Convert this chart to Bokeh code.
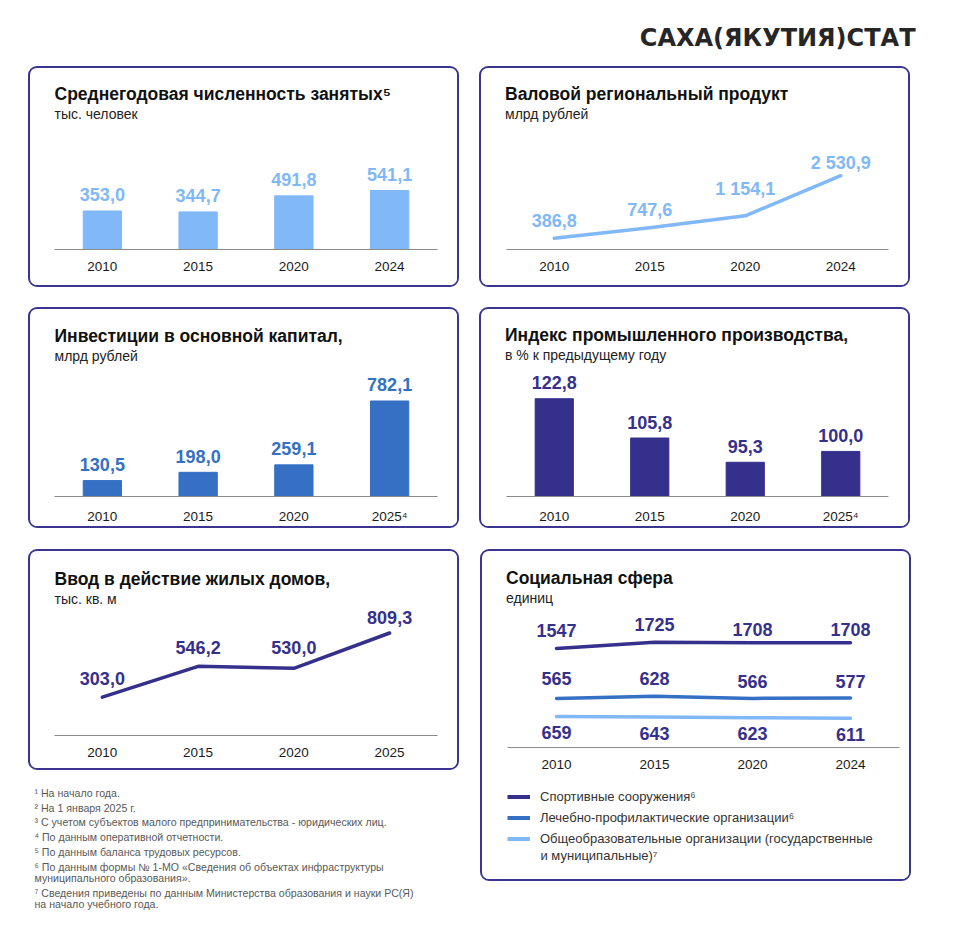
from bokeh.plotting import figure
from bokeh.models import (Range1d, FactorRange, Title, Legend, LegendItem,
                          ColumnDataSource, Spacer)
from bokeh.layouts import column, row
from bokeh.core.properties import value
from bokeh.embed import file_html
from bokeh.resources import INLINE

# ---------------- data ----------------
years_a = ["2010", "2015", "2020", "2024"]
years_b = ["2010", "2015", "2020", "2025\u2074"]
years_c = ["2010", "2015", "2020", "2025"]

employed = [353.0, 344.7, 491.8, 541.1]          # тыс. человек
grp = [386.8, 747.6, 1154.1, 2530.9]             # млрд рублей
investment = [130.5, 198.0, 259.1, 782.1]        # млрд рублей
industry_index = [122.8, 105.8, 95.3, 100.0]     # % к предыдущему году
housing = [303.0, 546.2, 530.0, 809.3]           # тыс. кв. м
sport = [1547, 1725, 1708, 1708]
medical = [565, 628, 566, 577]
schools = [659, 643, 623, 611]

legend_labels = ["Спортивные сооружения\u2076",
                 "Лечебно-профилактические организации\u2076",
                 "Общеобразовательные организации (государственные"]
legend_cont = "и муниципальные)\u2077"

footnotes = [
    ("\u00b9 На начало года.", False),
    ("\u00b2 На 1 января 2025 г.", False),
    ("\u00b3 С учетом субъектов малого предпринимательства - юридических лиц.", False),
    ("\u2074 По данным оперативной отчетности.", False),
    ("\u2075 По данным баланса трудовых ресурсов.", False),
    ("\u2076 По данным формы № 1-МО «Сведения об объектах инфраструктуры", False),
    ("муниципального образования».", True),
    ("\u2077 Сведения приведены по данным Министерства образования и науки РС(Я)", False),
    ("на начало учебного года.", True),
]

# ---------------- style ----------------
FONT = "Liberation Sans"
INDIGO = "#35308c"
MID = "#3570c4"
LIGHT = "#80b8f8"
BORDER = "#3a358f"
W = 427            # canvas width inside the 2.5px css border
EM = 1.15          # approximate text box height / font size
TS, SS = 17.5, 14  # title / subtitle font sizes
BOX = {"border": f"2.5px solid {BORDER}", "border-radius": "9px",
       "overflow": "hidden", "box-sizing": "content-box", "background-color": "white"}


def fmt1(v):
    return f"{v:,.1f}".replace(",", " ").replace(".", ",")


def panel(factors, height, left, right, bottom, title, subtitle, tcy, offset):
    """Figure with stacked titles; returns it and the approximate frame height."""
    t_box = 2 + EM * TS
    s_box = 2 + EM * SS
    t0 = tcy - t_box / 2
    sp_std = max(t0 - 2 - EM * 8, 0)
    frame_top = t0 + t_box + s_box
    p = figure(width=W, height=height, x_range=FactorRange(factors=factors),
               output_backend="svg", toolbar_location=None, y_axis_location=None,
               title_location=None,
               min_border_left=left, min_border_right=right,
               min_border_top=0, min_border_bottom=bottom,
               background_fill_color="white", border_fill_color="white",
               outline_line_color=None)
    p.xgrid.grid_line_color = None
    p.ygrid.grid_line_color = None
    ax = p.xaxis[0]
    ax.axis_line_color = "#8a8a8a"
    ax.axis_line_width = 1
    ax.major_tick_line_color = None
    ax.minor_tick_line_color = None
    ax.major_label_standoff = 6
    ax.major_label_text_font = FONT
    ax.major_label_text_font_size = "13.5px"
    ax.major_label_text_color = "#1a1a1a"
    # stacked outward from the frame: subtitle, title, spacer
    p.add_layout(Title(text=subtitle, align="left", vertical_align="middle", offset=offset,
                       standoff=0, text_font=FONT, text_font_size=f"{SS}px",
                       text_font_style="normal", text_color="#222222"), "above")
    p.add_layout(Title(text=title, align="left", vertical_align="middle", offset=offset,
                       standoff=0, text_font=FONT, text_font_size=f"{TS}px",
                       text_font_style="bold", text_color="#111111"), "above")
    p.add_layout(Title(text=" ", align="left", standoff=sp_std, text_font=FONT,
                       text_font_size="8px"), "above")
    return p, (height - bottom) - frame_top


def boxed(*children):
    return column(*children, styles=BOX)


def value_labels(p, xs, ys, texts, offs, color, **kw):
    src = ColumnDataSource(dict(x=xs, y=ys, t=texts, o=offs))
    p.text(x="x", y="y", text="t", y_offset="o", source=src, text_align="center",
           text_baseline="middle", text_font=value(FONT), text_font_size="18px",
           text_font_style="bold", text_color=color, **kw)


def blank(width, height, **kw):
    f = figure(width=width, height=height, output_backend="svg", toolbar_location=None,
               x_axis_location=None, y_axis_location=None, title_location=None,
               outline_line_color=None, **kw)
    f.grid.visible = False
    return f


# ---------------- header ----------------
hdr = blank(940, 66, x_range=Range1d(0, 940), y_range=Range1d(66, 0), min_border=0)
hdr.text(x=[915], y=[37], text=["САХА(ЯКУТИЯ)СТАТ"], text_align="right", text_baseline="middle",
         text_font=value("DejaVu Sans"), text_font_size="24px", text_font_style="bold",
         text_color="#262626")

# ---------------- panel 1: employed ----------------
p1, fh = panel(years_a, 217, 24, 20, 36,
               "Среднегодовая численность занятых\u2075", "тыс. человек", 25.5, 0)
p1.y_range = Range1d(0, fh / 0.1085)
p1.vbar(x=years_a, top=employed, width=0.4, color=LIGHT)
value_labels(p1, years_a, employed, [fmt1(v) for v in employed], [-16] * 4, LIGHT)

# ---------------- panel 2: GRP ----------------
p2, fh = panel(years_a, 217, 25, 20, 36,
               "Валовой региональный продукт", "млрд рублей", 25.5, -1.5)
p2.y_range = Range1d(0, fh / 0.029)
p2.line(x=years_a, y=grp, line_color=LIGHT, line_width=3.5, line_join="round",
        line_cap="round")
value_labels(p2, years_a, grp, [fmt1(v) for v in grp], [-18, -18, -27, -13], LIGHT)

# ---------------- panel 3: investment ----------------
p3, fh = panel(years_b, 217, 24, 20, 30,
               "Инвестиции в основной капитал,", "млрд рублей", 26.5, 0)
p3.y_range = Range1d(0, fh / 0.1215)
p3.vbar(x=years_b, top=investment, width=0.4, color=MID)
value_labels(p3, years_b, investment, [fmt1(v) for v in investment], [-16] * 4, MID)

# ---------------- panel 4: industry index ----------------
p4, fh = panel(years_b, 217, 25, 20, 30,
               "Индекс промышленного производства,", "в % к предыдущему году", 25.5, -1.5)
p4.y_range = Range1d(80.5, 80.5 + fh / 2.3)
p4.vbar(x=years_b, top=industry_index, width=0.4, color=INDIGO)
value_labels(p4, years_b, industry_index, [fmt1(v) for v in industry_index], [-16] * 4, INDIGO)

# ---------------- panel 5: housing ----------------
p5, fh = panel(years_c, 217, 24, 20, 33,
               "Ввод в действие жилых домов,", "тыс. кв. м", 27.5, 0)
p5.y_range = Range1d(0, fh / 0.126)
p5.line(x=years_c, y=housing, line_color=INDIGO, line_width=3.5, line_join="round",
        line_cap="round")
value_labels(p5, years_c, housing, [fmt1(v) for v in housing], [-19, -19, -21, -15], INDIGO)

# ---------------- panel 6: social ----------------
p6, fh = panel(years_a, 225, 25, 10, 29, "Социальная сфера", "единиц", 26, -1.5)
p6.y_range = Range1d(0, 1)
S = 0.035
p6.extra_y_ranges = {
    "sport": Range1d(1547 - 99 / S, 1547 - 99 / S + fh / S),
    "med": Range1d(565 - 49 / S, 565 - 49 / S + fh / S),
    "sch": Range1d(659 - 31 / S, 659 - 31 / S + fh / S),
}
p6.line(x=years_a, y=sport, y_range_name="sport", line_color=INDIGO, line_width=3.5,
        line_cap="round")
p6.line(x=years_a, y=medical, y_range_name="med", line_color=MID, line_width=3.5,
        line_cap="round")
p6.line(x=years_a, y=schools, y_range_name="sch", line_color=LIGHT, line_width=3.5,
        line_cap="round")
value_labels(p6, years_a, sport, [str(v) for v in sport], [-18, -18, -13, -13], INDIGO,
             y_range_name="sport")
value_labels(p6, years_a, medical, [str(v) for v in medical], [-20, -18, -17, -17], INDIGO,
             y_range_name="med")
value_labels(p6, years_a, schools, [str(v) for v in schools], [16] * 4, INDIGO,
             y_range_name="sch")

# legend strip of the social panel (swatch renderers sit outside the visible range)
LH = 103
p6l = blank(W, LH, x_range=Range1d(25, W - 10), y_range=Range1d(LH, 0),
            min_border_left=25, min_border_right=10, min_border_top=0, min_border_bottom=0)
off = dict(x=[-1000, -999], y=[-1000, -1000])
d1 = p6l.line(x=off["x"], y=off["y"], line_color=INDIGO, line_width=4)
d2 = p6l.line(x=off["x"], y=off["y"], line_color=MID, line_width=4)
d3 = p6l.line(x=off["x"], y=off["y"], line_color=LIGHT, line_width=4)
leg = Legend(items=[LegendItem(label=legend_labels[0], renderers=[d1]),
                    LegendItem(label=legend_labels[1], renderers=[d2]),
                    LegendItem(label=legend_labels[2], renderers=[d3])],
             location=(0, 33), orientation="vertical", glyph_width=23, glyph_height=15,
             label_height=15, label_standoff=10, spacing=6, padding=0, margin=0,
             border_line_color=None, background_fill_alpha=0,
             label_text_font=FONT, label_text_font_size="13px", label_text_color="#333333")
p6l.add_layout(leg)
p6l.text(x=[58], y=[78.5], text=[legend_cont], text_baseline="middle",
         text_font=value(FONT), text_font_size="13px", text_color="#333333")

# ---------------- footnotes ----------------
FH = 162
foot = blank(432, FH, x_range=Range1d(0, 432), y_range=Range1d(FH, 0), min_border=0)
fy, ys = 22.3, []
for i, (_, cont) in enumerate(footnotes):
    if i > 0:
        fy += 11.0 if cont else 14.8
    ys.append(fy)
foot.text(x=[6] * len(footnotes), y=ys, text=[t for t, _ in footnotes], text_baseline="middle",
          text_font=value(FONT), text_font_size="10.6px", text_color="#595959")

# ---------------- layout ----------------
layout = column(
    hdr,
    row(Spacer(width=28), boxed(p1), Spacer(width=20), boxed(p2)),
    Spacer(height=20),
    row(Spacer(width=28), boxed(p3), Spacer(width=20), boxed(p4)),
    Spacer(height=21),
    row(Spacer(width=28), column(boxed(p5), foot), Spacer(width=20), boxed(p6, p6l)),
)

open("out.html", "w").write(file_html(layout, INLINE))
